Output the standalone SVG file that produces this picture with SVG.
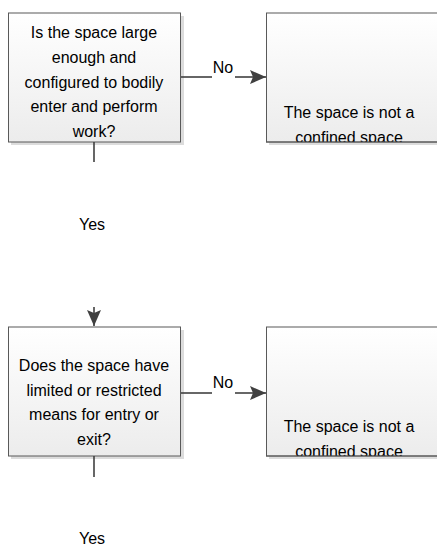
<svg xmlns="http://www.w3.org/2000/svg" width="437" height="547" viewBox="0 0 437 547">
<style>
.t{font-family:"Liberation Sans",Arial,sans-serif;font-size:16px;fill:#000;text-anchor:middle}
.box{stroke:#595959;stroke-width:1;fill:url(#g)}
.sh{fill:#dcdcdc}
.ln{stroke:#404040;stroke-width:1.6;fill:none}
</style>
<defs>
<linearGradient id="g" x1="0" y1="0" x2="0" y2="1"><stop offset="0" stop-color="#ffffff"/><stop offset="1" stop-color="#ececec"/></linearGradient>
<marker id="ah" markerWidth="16" markerHeight="14" viewBox="0 0 16 14" refX="16" refY="7" orient="auto" markerUnits="userSpaceOnUse">
<path d="M0,0 L16,7 L0,14 L3,7 Z" fill="#404040"/>
</marker>
<clipPath id="c1"><rect x="266" y="13" width="173" height="129"/></clipPath>
<clipPath id="c2"><rect x="266" y="327" width="173" height="129"/></clipPath>
</defs>
<g id="q1">
<rect class="sh" x="11" y="16" width="173" height="129"/>
<rect class="box" x="8.5" y="13" width="172" height="129"/>
<text class="t" x="94" y="37.5">Is the space large</text>
<text class="t" x="94" y="62.5">enough and</text>
<text class="t" x="94" y="87.5">configured to bodily</text>
<text class="t" x="94" y="111.5">enter and perform</text>
<text class="t" x="94" y="136.5">work?</text>
</g>
<g id="r1">
<rect class="sh" x="269" y="16" width="173" height="129"/>
<rect class="box" x="266.5" y="13" width="173" height="129"/>
<g clip-path="url(#c1)">
<text class="t" x="349" y="118">The space is not a</text>
<text class="t" x="349" y="143">confined space</text>
</g>
<line x1="266" y1="142" x2="437" y2="142" stroke="#595959"/>
</g>
<g id="q2">
<rect class="sh" x="11" y="330" width="173" height="129"/>
<rect class="box" x="8.5" y="327" width="172" height="129"/>
<text class="t" x="94" y="370.5">Does the space have</text>
<text class="t" x="94" y="395.5">limited or restricted</text>
<text class="t" x="94" y="419.5">means for entry or</text>
<text class="t" x="94" y="444.5">exit?</text>
</g>
<g id="r2">
<rect class="sh" x="269" y="330" width="173" height="129"/>
<rect class="box" x="266.5" y="327" width="173" height="129"/>
<g clip-path="url(#c2)">
<text class="t" x="349" y="432">The space is not a</text>
<text class="t" x="349" y="457">confined space</text>
</g>
<line x1="266" y1="456" x2="437" y2="456" stroke="#595959"/>
</g>
<g id="connectors">
<path class="ln" d="M181,77 H212"/>
<path class="ln" d="M235,77 H266" marker-end="url(#ah)"/>
<text class="t" x="223" y="73">No</text>
<path class="ln" d="M94,142 V162"/>
<text class="t" x="92" y="230">Yes</text>
<path class="ln" d="M94,307 V326" marker-end="url(#ah)"/>
<path class="ln" d="M181,393 H212"/>
<path class="ln" d="M235,393 H266" marker-end="url(#ah)"/>
<text class="t" x="223" y="388">No</text>
<path class="ln" d="M94,456 V477"/>
<text class="t" x="92" y="544">Yes</text>
</g>
</svg>
